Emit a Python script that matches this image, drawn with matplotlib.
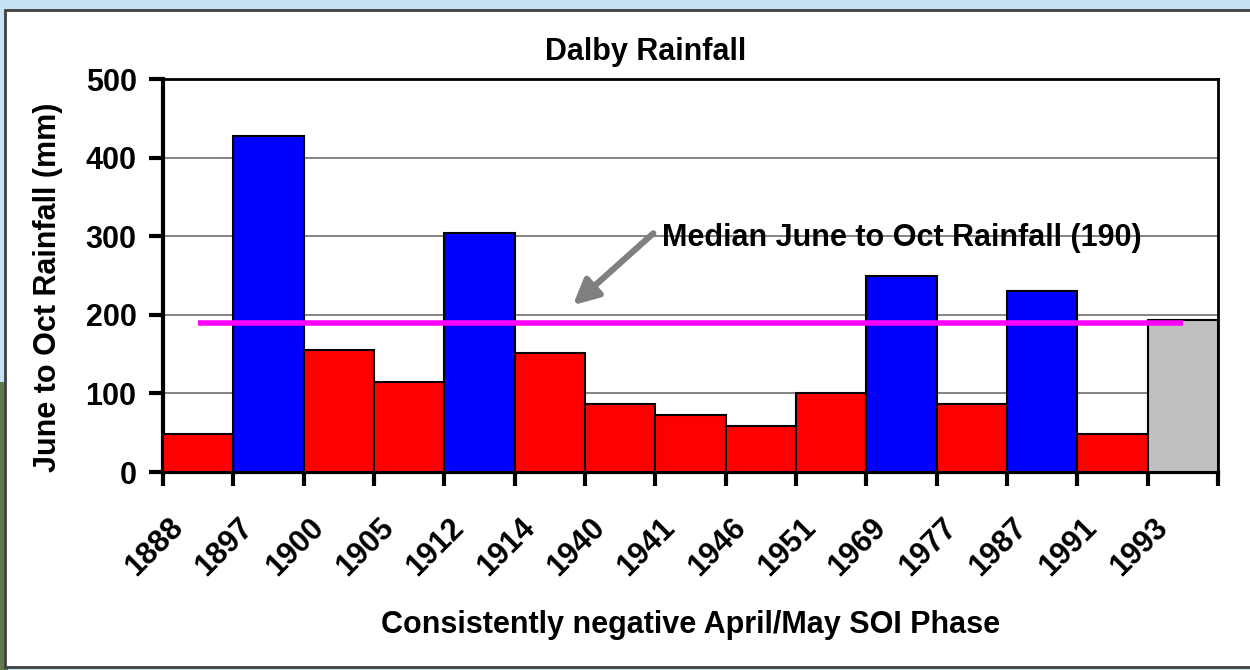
import matplotlib.pyplot as plt
import numpy as np
from matplotlib.patches import Rectangle

years = ["1888", "1897", "1900", "1905", "1912", "1914", "1940", "1941",
         "1946", "1951", "1969", "1977", "1987", "1991", "1993"]
rain = [48, 428, 155, 114, 304, 152, 86, 72, 58, 101, 250, 86, 230, 48, 194]
colours = ["red", "blue", "red", "red", "blue", "red", "red", "red",
           "red", "red", "blue", "red", "blue", "red", "#C0C0C0"]
median = 190

plt.rcParams["font.family"] = ["Liberation Sans", "DejaVu Sans"]
plt.rcParams["font.weight"] = "bold"
fs = 22

fig = plt.figure(figsize=(12.5, 6.7), dpi=100)
fig.patch.set_facecolor("#c6e2f4")
# left picture strip and white chart area
fig.patches.append(Rectangle((0, 0), 0.006, 0.43, transform=fig.transFigure,
                             facecolor="#5f7a4c", edgecolor="none", zorder=0))
fig.patches.append(Rectangle((0.004, 0.004), 1.0, 0.981, transform=fig.transFigure,
                             facecolor="white", edgecolor="#404040", linewidth=2, zorder=1))

ax = fig.add_axes([0.1304, 0.2955, 0.8440, 0.5865])
ax.set_zorder(2)
ax.set_facecolor("white")

x = np.arange(len(years))
ax.bar(x, rain, width=1.0, align="edge", color=colours, edgecolor="black",
       linewidth=1.5, zorder=3)
ax.plot([x[0] + 0.5, x[-1] + 0.5], [median, median], color="#FF00FF",
        linewidth=4, zorder=4, solid_capstyle="butt")

ax.set_xlim(0, len(years))
ax.set_ylim(0, 500)
ax.set_yticks(np.arange(0, 501, 100))
ax.yaxis.grid(True, color="#707070", linewidth=1.2, zorder=0)
ax.set_axisbelow(True)

ax.set_xticks(np.arange(len(years) + 1))
ax.set_xticklabels([])
ax.set_xticks(x + 0.22, years, minor=True)
ax.tick_params(axis="x", which="major", length=10, width=3, direction="out")
ax.tick_params(axis="x", which="minor", length=0, pad=37, labelsize=fs)
for lab in ax.get_xticklabels(minor=True):
    lab.set_rotation(45)
    lab.set_ha("right")
    lab.set_va("center")
    lab.set_rotation_mode("anchor")
    lab.set_fontweight("bold")
ax.tick_params(axis="y", length=10, width=3, direction="out", labelsize=fs, pad=9)
for lab in ax.get_yticklabels():
    lab.set_fontweight("bold")

for s in ["left", "bottom"]:
    ax.spines[s].set_linewidth(3)
for s in ["top", "right"]:
    ax.spines[s].set_linewidth(2)

ax.set_title("Dalby Rainfall", fontsize=fs, fontweight="bold", pad=14, x=0.457)
ax.set_ylabel("June to Oct Rainfall (mm)", fontsize=fs, fontweight="bold",
              labelpad=16, y=0.47)
ax.set_xlabel("Consistently negative April/May SOI Phase", fontsize=fs,
              fontweight="bold", labelpad=20)

ax.annotate("", xy=(5.8, 210), xytext=(7.0, 306),
            arrowprops=dict(arrowstyle="-|>,head_length=1.5,head_width=0.75",
                            color="#808080", lw=4.5), zorder=5)
ax.text(7.1, 298, "Median June to Oct Rainfall (190)", fontsize=fs,
        fontweight="bold", va="center", ha="left", zorder=5)

fig.savefig("out.png", dpi=100, facecolor=fig.get_facecolor())
